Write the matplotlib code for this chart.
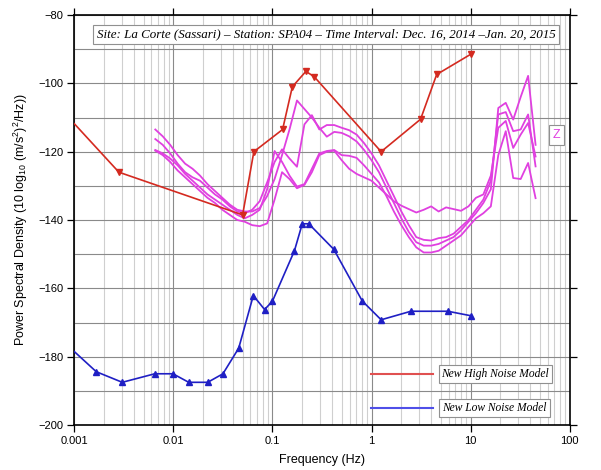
import numpy as np
import matplotlib
matplotlib.use("Agg")
import matplotlib.pyplot as plt
from matplotlib.ticker import FixedLocator, NullFormatter

plt.rcParams['font.family'] = ['Liberation Sans', 'DejaVu Sans']
plt.rcParams['mathtext.default'] = 'regular'

# ---------------- data ----------------
# New High Noise Model (freq Hz, dB); first point at the plot edge has no marker
nhnm_freq = [0.001, 0.00282, 0.05, 0.0649, 0.1266, 0.1587, 0.2174, 0.263, 1.25, 3.125, 4.545, 10.0]
nhnm_db = [-111.8, -126.0, -138.5, -120.0, -113.5, -101.0, -96.5, -98.0, -120.0, -110.5, -97.4, -91.5]

# New Low Noise Model
nlnm_freq = [0.001, 0.001667, 0.003049, 0.006494, 0.009901, 0.014286, 0.022222, 0.031646,
             0.045662, 0.064103, 0.083333, 0.1, 0.166667, 0.2, 0.232558, 0.416667,
             0.806452, 1.25, 2.5, 5.882353, 10.0]
nlnm_db = [-178.5, -184.4, -187.5, -185.0, -185.0, -187.5, -187.5, -185.0,
           -177.5, -162.1, -166.2, -163.75, -149.0, -141.1, -141.1, -148.6,
           -163.7, -169.2, -166.7, -166.7, -168.0]

# PSD curves (quarter-octave centre frequencies 2^(n/4), n = -29 .. 22)
psd_exp = list(range(-29, 23))
psd_1 = [-113.5, -115.5, -118, -121, -123.5, -125, -127, -129.5, -131.5, -133.5, -135.5, -137, -137.5,
         -137.5, -136.5, -133, -128, -121, -113.5, -105, -107.5, -110,
         -113, -115.6, -114.2, -114.5, -115.5, -117, -119.5, -122.5,
         -126, -130.5, -135, -139.5, -143.5, -146.5, -147.5, -147.5, -147, -146, -145, -143, -140.5, -138, -135, -131,
         -107.2, -105.7, -110.6, -104.0, -97.8, -118.0]
psd_2 = [-116.3, -118, -120.5, -123.5, -126, -127.5, -128.5, -130.5, -132.5, -134, -136, -137.5, -138,
         -137, -134.5, -129, -123, -119.3, -122, -124.4, -112, -109.3,
         -113.5, -112.2, -112.2, -113, -113.7, -115, -117.5, -120.5,
         -124, -128.5, -133, -137.5, -141.5, -145, -145.8, -146, -145.3, -145, -144, -142, -140, -137, -134, -128.5,
         -109.1, -108.4, -114.0, -113.5, -109.1, -124.3]
psd_3 = [-119.5, -120.5, -122, -124, -126.5, -128.5, -130.5, -132.5, -134, -135.5, -137, -138.5, -139.5,
         -138.5, -137, -131, -119.8, -123, -127, -130.2, -129.5, -125,
         -120.5, -119.8, -119.5, -121, -121.2, -121.8, -124, -126.5,
         -129, -133, -137.5, -141.5, -145, -148, -149.5, -149.5, -149, -147.5, -146, -144.5, -142, -139.5, -138, -136,
         -121.0, -114.0, -127.7, -128.0, -123.3, -133.6]
psd_4 = [-119.7, -121, -123, -125.5, -127.5, -129.5, -131.5, -133.5, -135, -137, -138.5, -140, -140.5,
         -141.5, -141.8, -141, -134, -126, -128, -130.7, -129.7, -126,
         -121, -120, -119.7, -122.5, -125, -126.5, -127.5, -128.5,
         -130.5, -132.5, -134.5, -135.8, -136.8, -137.8, -137, -136, -137.5, -136.3, -136.8, -137.3, -136, -133.5, -132.5, -127,
         -113.0, -111.0, -118.9, -115.0, -111.6, -121.4]

x_ticks = [0.001, 0.01, 0.1, 1, 10, 100]
x_ticklabels = ["0.001", "0.01", "0.1", "1", "10", "100"]
y_ticks = [-200, -180, -160, -140, -120, -100, -80]

title_text = "Site: La Corte (Sassari) \u2013 Station: SPA04 \u2013 Time Interval: Dec. 16, 2014 \u2013Jan. 20, 2015"
legend_labels = ["New High Noise Model", "New Low Noise Model"]

# ---------------- figure ----------------
fig = plt.figure(figsize=(6.01, 4.70), dpi=100)
ax = fig.add_axes([0.1236, 0.0957, 0.8243, 0.8723])

RED = '#d42a20'
BLUE = '#1f1fc4'
MAG = '#e040e0'

psd_freq = [2.0 ** (n / 4.0) for n in psd_exp]
for vals in (psd_1, psd_2, psd_3, psd_4):
    ax.plot(psd_freq, vals, color=MAG, lw=1.3, zorder=3)

ax.plot(nhnm_freq, nhnm_db, color=RED, lw=1.2, marker='v', ms=4,
        markevery=list(range(1, len(nhnm_freq))), zorder=4)
ax.plot(nlnm_freq, nlnm_db, color=BLUE, lw=1.2, marker='^', ms=4,
        markevery=list(range(1, len(nlnm_freq))), zorder=4)

ax.set_xscale('log')
ax.set_xlim(0.001, 100)
ax.set_ylim(-200, -80)

ax.xaxis.set_major_locator(FixedLocator(x_ticks))
ax.set_xticklabels(x_ticklabels)
minors = [m * 10.0 ** e for e in range(-3, 2) for m in range(2, 10)]
ax.xaxis.set_minor_locator(FixedLocator(minors))
ax.xaxis.set_minor_formatter(NullFormatter())
ax.yaxis.set_major_locator(FixedLocator(y_ticks))
ax.yaxis.set_minor_locator(FixedLocator(list(range(-190, -80, 20))))

ax.tick_params(which='major', direction='out', length=5, width=0.9, labelsize=8,
               top=True, right=True, pad=3)
ax.tick_params(which='minor', length=0)

ax.grid(True, which='major', axis='x', color='#8a8a8a', lw=0.8)
ax.grid(True, which='minor', axis='x', color='#cfcfcf', lw=0.8)
ax.grid(True, which='both', axis='y', color='#8a8a8a', lw=0.8)
ax.set_axisbelow(True)
for s in ax.spines.values():
    s.set_linewidth(1.2)

ax.set_xlabel("Frequency (Hz)", fontsize=9, labelpad=6)
ax.set_ylabel("Power Spectral Density (10 log$_{10}$ (m/s$^2$)$^2$/Hz))", fontsize=9, labelpad=6)

serif = dict(family=['Liberation Serif', 'DejaVu Serif'], style='italic')
box = dict(boxstyle='square,pad=0.25', fc='white', ec='#909090', lw=0.8)

ax.text(0.508, 0.952, title_text, transform=ax.transAxes, ha='center', va='center',
        fontsize=9.4, bbox=box, zorder=6, **serif)

# legend drawn manually
ax.plot([0.5997, 0.724], [0.124, 0.124], transform=ax.transAxes, color='#e05050', lw=1.5, zorder=6)
ax.plot([0.5997, 0.724], [0.041, 0.041], transform=ax.transAxes, color='#4f4fe8', lw=1.5, zorder=6)
ax.text(0.850, 0.124, legend_labels[0], transform=ax.transAxes, ha='center', va='center',
        fontsize=8.3, bbox=box, zorder=6, **serif)
ax.text(0.848, 0.041, legend_labels[1], transform=ax.transAxes, ha='center', va='center',
        fontsize=8.3, bbox=box, zorder=6, **serif)

ax.text(0.974, 0.707, "Z", transform=ax.transAxes, ha='center', va='center', fontsize=9,
        color=MAG, bbox=dict(boxstyle='square,pad=0.3', fc='white', ec='#909090', lw=0.8), zorder=6)

fig.savefig("out.png", dpi=100)
